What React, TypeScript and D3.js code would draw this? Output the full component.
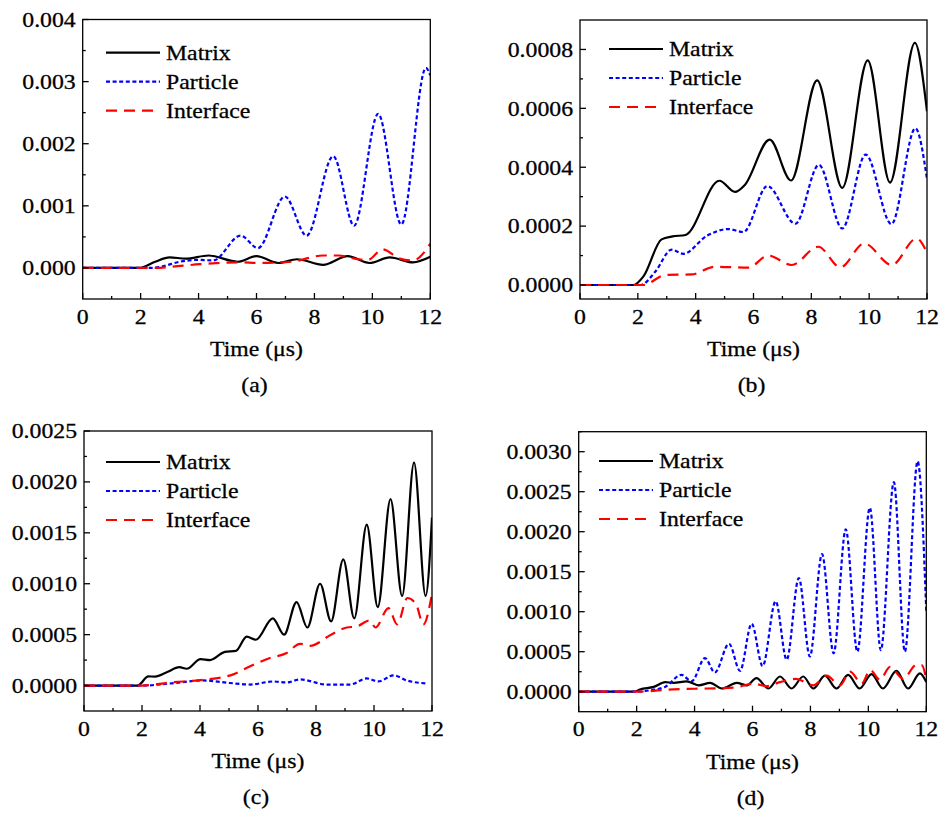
import React from "react";
import * as d3 from "d3";

type Pt = [number, number];

// ---------- data (time in μs, value) ----------
const xMajorTicks = [0, 2, 4, 6, 8, 10, 12];
const xMinorTicks = [1, 3, 5, 7, 9, 11];
const seriesNames = ["Matrix", "Particle", "Interface"];
const panelLabels = ["(a)", "(b)", "(c)", "(d)"];
const xTitle = "Time (μs)";

const aYTicks = [0, 0.001, 0.002, 0.003, 0.004];
const aYMinor = [0.0005, 0.0015, 0.0025, 0.0035];
const aMatrix: Pt[] = [[0,0],[1.95,0],[2.5,0.0001],[3.0,0.00017],[3.55,0.00015],[4.35,0.0002],[5.35,0.0001],[6.0,0.00019],[6.75,0.00008],[7.4,0.00014],[8.3,0.00005],[9.15,0.00019],[9.9,0.00008],[10.6,0.00017],[11.4,0.00009],[12,0.00018]];
const aParticle: Pt[] = [[0,0],[2.3,0],[2.7,0.00002],[3.35,0.0001],[4.0,0.00013],[4.5,0.00012],[5.45,0.00052],[6.05,0.00032],[6.98,0.00115],[7.73,0.00052],[8.65,0.0018],[9.37,0.00068],[10.2,0.00248],[11.0,0.0007],[11.85,0.00322],[12,0.0031]];
const aInterface: Pt[] = [[0,0],[2.5,0],[3.1,0.00002],[4.05,0.00006],[5.4,0.00009],[6.1,0.00008],[7.2,0.0001],[8.3,0.0002],[8.85,0.0002],[9.5,0.00014],[9.85,0.00013],[10.35,0.0003],[10.95,0.00015],[11.4,0.00012],[12,0.00039]];

const bYTicks = [0, 0.0002, 0.0004, 0.0006, 0.0008];
const bYMinor = [0.0001, 0.0003, 0.0005, 0.0007];
const bMatrix: Pt[] = [[0,0],[1.85,0],[2.2,0.00003],[2.82,0.000155],[3.2,0.000165],[3.65,0.00017],[4.82,0.000354],[5.36,0.000316],[5.7,0.00034],[6.56,0.000494],[7.3,0.000355],[8.2,0.000695],[9.07,0.00033],[9.95,0.000763],[10.72,0.000348],[11.58,0.000822],[12,0.00059]];
const bParticle: Pt[] = [[0,0],[2.1,0],[2.6,0.000045],[3.17,0.00012],[3.57,0.000106],[4.4,0.000168],[5.13,0.00019],[5.65,0.00018],[6.48,0.000336],[7.45,0.000208],[8.26,0.000408],[9.07,0.000192],[9.88,0.000443],[10.77,0.000207],[11.6,0.000532],[12,0.00036]];
const bInterface: Pt[] = [[0,0],[2.2,0],[2.94,0.000034],[3.86,0.000036],[4.67,0.000062],[5.82,0.000059],[6.51,0.0001],[7.32,0.000068],[8.24,0.00013],[9.0,0.00006],[9.83,0.000141],[10.78,0.000068],[11.64,0.000158],[12,0.00011]];

const cYTicks = [0, 0.0005, 0.001, 0.0015, 0.002, 0.0025];
const cYMinor = [0.00025, 0.00075, 0.00125, 0.00175, 0.00225];
const cMatrix: Pt[] = [[0,0],[1.85,0],[2.22,0.00009],[2.45,0.000088],[2.85,0.00013],[3.29,0.00018],[3.54,0.000165],[4.02,0.00026],[4.34,0.00025],[4.86,0.00033],[5.24,0.00034],[5.61,0.00048],[5.93,0.00045],[6.51,0.00066],[6.9,0.0005],[7.33,0.00082],[7.7,0.00057],[8.14,0.001],[8.52,0.00063],[8.94,0.00124],[9.32,0.00066],[9.75,0.00158],[10.13,0.00077],[10.57,0.00183],[10.97,0.00088],[11.38,0.00219],[11.78,0.00088],[12,0.00165]];
const cParticle: Pt[] = [[0,0],[2.0,0],[2.97,0.00002],[4.11,0.00005],[5.03,0.000025],[5.73,0.00001],[6.52,0.00004],[6.99,0.00003],[7.45,0.00006],[8.37,0.00001],[9.17,0.00001],[9.75,0.00007],[10.15,0.00004],[10.67,0.0001],[11.13,0.00005],[11.82,0.00002]];
const cInterface: Pt[] = [[0,0],[2.0,0],[2.97,0.00003],[4.11,0.000056],[5.15,0.00011],[5.73,0.00019],[6.41,0.00027],[6.99,0.00032],[7.45,0.00041],[7.79,0.00039],[8.52,0.0005],[9.06,0.00057],[9.4,0.00058],[9.85,0.00064],[10.05,0.00057],[10.5,0.00076],[10.8,0.0006],[11.15,0.00086],[11.45,0.0008],[11.7,0.0006],[12,0.0009]];

const dYTicks = [0, 0.0005, 0.001, 0.0015, 0.002, 0.0025, 0.003];
const dYMinor = [0.00025, 0.00075, 0.00125, 0.00175, 0.00225, 0.00275, 0.00325];
const dMatrix: Pt[] = [[0,0],[1.9,0],[2.13,0.00003],[2.59,0.00006],[2.99,0.00012],[3.27,0.00011],[3.73,0.00013],[4.14,0.00008],[4.54,0.00011],[4.94,0.00004],[5.46,0.00011],[5.8,0.00008],[6.14,0.00017],[6.55,0.00004],[6.95,0.00019],[7.35,0.00004],[7.75,0.00019],[8.1,0.00004],[8.5,0.0002],[8.9,0.00004],[9.3,0.00021],[9.7,0.00004],[10.11,0.00022],[10.5,0.00004],[10.97,0.00026],[11.37,0.00004],[11.78,0.00023],[12,0.00012]];
const dParticle: Pt[] = [[0,0],[1.95,0],[2.5,0.00002],[2.98,0.00006],[3.55,0.00021],[3.9,0.00013],[4.36,0.00042],[4.7,0.00024],[5.19,0.0006],[5.57,0.00026],[5.97,0.00085],[6.35,0.00032],[6.8,0.00113],[7.18,0.0004],[7.6,0.00142],[7.98,0.00044],[8.4,0.00172],[8.8,0.00048],[9.22,0.00203],[9.62,0.0005],[10.05,0.0023],[10.43,0.00052],[10.88,0.00262],[11.26,0.0005],[11.7,0.00288],[12,0.001]];
const dInterface: Pt[] = [[0,0],[2.0,0],[3.27,0.00003],[4.42,0.00004],[5.34,0.00005],[6.03,0.0001],[6.49,0.00007],[6.95,0.00012],[7.5,0.00016],[8.1,0.00008],[8.56,0.0002],[9.02,0.00008],[9.37,0.00025],[9.77,0.0001],[10.06,0.00027],[10.4,0.00015],[10.75,0.00031],[11.2,0.00016],[11.67,0.00034],[11.85,0.00033],[12,0.00015]];

// ---------- layout / style ----------
const FONT = '"Liberation Serif", "Times New Roman", Times, serif';
const FS = 22;
const SX = 1.08;
const COLORS = ["#000000", "#0000ff", "#ff0000"];
const DASHES = ["", "4,2.6", "11,7"];

interface PanelCfg {
  x0: number; x1: number; y0: number; y1: number;
  yDomain: [number, number];
  yTicks: number[]; yMinor: number[]; decimals: number;
  series: Pt[][];
  legX: number; legY: number;
  label: string;
}

const panels: PanelCfg[] = [
  { x0: 82.7, x1: 430.3, y0: 19.5, y1: 299, yDomain: [-0.0005, 0.004], yTicks: aYTicks, yMinor: aYMinor, decimals: 3, series: [aMatrix, aParticle, aInterface], legX: 106, legY: 52.7, label: panelLabels[0] },
  { x0: 580, x1: 927, y0: 20, y1: 299, yDomain: [-0.0000475, 0.0009], yTicks: bYTicks, yMinor: bYMinor, decimals: 4, series: [bMatrix, bParticle, bInterface], legX: 609, legY: 49, label: panelLabels[1] },
  { x0: 84, x1: 432, y0: 431, y1: 711, yDomain: [-0.00025, 0.0025], yTicks: cYTicks, yMinor: cYMinor, decimals: 4, series: [cMatrix, cParticle, cInterface], legX: 106, legY: 462, label: panelLabels[2] },
  { x0: 578.7, x1: 926.3, y0: 431.7, y1: 711.7, yDomain: [-0.00025, 0.00325], yTicks: dYTicks, yMinor: dYMinor, decimals: 4, series: [dMatrix, dParticle, dInterface], legX: 599, legY: 461, label: panelLabels[3] },
];

function T({ x, y, anchor, children }: { x: number; y: number; anchor: string; children: React.ReactNode }) {
  return (
    <text transform={`translate(${x},${y}) scale(${SX},1)`} textAnchor={anchor} style={{ fontFamily: FONT, fontSize: FS + "px" }} fill="#000" stroke="#000" strokeWidth={0.3}>
      {children}
    </text>
  );
}

function Panel({ cfg, idx }: { cfg: PanelCfg; idx: number }) {
  const xs = d3.scaleLinear().domain([0, 12]).range([cfg.x0, cfg.x1]);
  const ys = d3.scaleLinear().domain(cfg.yDomain).range([cfg.y1, cfg.y0]);
  const line = d3.line<Pt>().x(d => xs(d[0])).y(d => ys(d[1])).curve(d3.curveMonotoneX);
  const clipId = `clip${idx}`;
  const midX = (cfg.x0 + cfg.x1) / 2;
  return (
    <g>
      <defs>
        <clipPath id={clipId}>
          <rect x={cfg.x0} y={cfg.y0} width={cfg.x1 - cfg.x0} height={cfg.y1 - cfg.y0} />
        </clipPath>
      </defs>
      <g clipPath={`url(#${clipId})`}>
        {cfg.series.map((s, i) => (
          <path key={i} d={line(s) || ""} fill="none" stroke={COLORS[i]} strokeWidth={2.2} strokeDasharray={DASHES[i] || undefined} />
        ))}
      </g>
      <rect x={cfg.x0} y={cfg.y0} width={cfg.x1 - cfg.x0} height={cfg.y1 - cfg.y0} fill="none" stroke="#000" strokeWidth={1.3} />
      {xMajorTicks.map(t => (
        <g key={"xm" + t}>
          <line x1={xs(t)} x2={xs(t)} y1={cfg.y1} y2={cfg.y1 - 6} stroke="#000" strokeWidth={1.3} />
          <T x={xs(t)} y={cfg.y1 + 24.5} anchor="middle">{String(t)}</T>
        </g>
      ))}
      {xMinorTicks.map(t => (
        <line key={"xn" + t} x1={xs(t)} x2={xs(t)} y1={cfg.y1} y2={cfg.y1 - 3} stroke="#000" strokeWidth={1.3} />
      ))}
      {cfg.yTicks.map(v => (
        <g key={"ym" + v}>
          <line x1={cfg.x0} x2={cfg.x0 + 6} y1={ys(v)} y2={ys(v)} stroke="#000" strokeWidth={1.3} />
          <T x={cfg.x0 - 7} y={ys(v) + 7.3} anchor="end">{v.toFixed(cfg.decimals)}</T>
        </g>
      ))}
      {cfg.yMinor.map(v => (
        <line key={"yn" + v} x1={cfg.x0} x2={cfg.x0 + 3} y1={ys(v)} y2={ys(v)} stroke="#000" strokeWidth={1.3} />
      ))}
      <T x={midX} y={cfg.y1 + 57} anchor="middle">{xTitle}</T>
      <T x={midX - 2} y={cfg.y1 + 93} anchor="middle">{cfg.label}</T>
      {seriesNames.map((n, i) => {
        const ly = cfg.legY + i * 29;
        return (
          <g key={n}>
            <line x1={cfg.legX} x2={cfg.legX + 54} y1={ly} y2={ly} stroke={COLORS[i]} strokeWidth={2.2} strokeDasharray={DASHES[i] || undefined} />
            <T x={cfg.legX + 60} y={ly + 7.3} anchor="start">{n}</T>
          </g>
        );
      })}
    </g>
  );
}

export default function App() {
  return (
    <svg width={947} height={814} style={{ position: "absolute", left: 0, top: 0, background: "#fff" }}>
      <rect x={0} y={0} width={947} height={814} fill="#fff" />
      {panels.map((p, i) => (
        <Panel key={i} cfg={p} idx={i} />
      ))}
    </svg>
  );
}
